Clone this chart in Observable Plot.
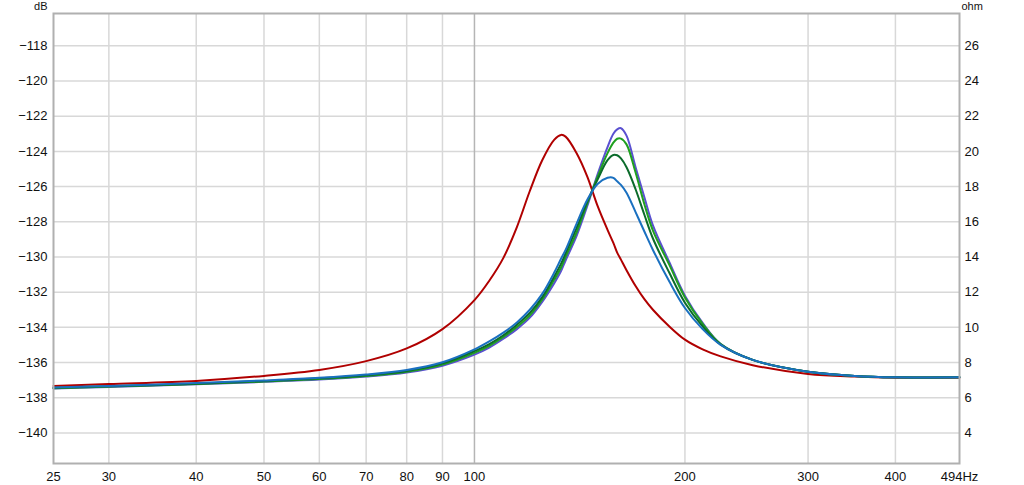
<!DOCTYPE html>
<html><head><meta charset="utf-8">
<script src="https://cdn.jsdelivr.net/npm/d3@7"></script>
<script src="https://cdn.jsdelivr.net/npm/@observablehq/plot@0.6"></script>
<style>body{margin:0;background:#fff} svg{display:block}</style>
</head><body><div id="chart"></div>
<script>
// Frequencies (Hz)
const freqs = [25,30,40,50,60,70,80,90,100,105,110,115,120,125,130,133,135,140,145,150,155,158,160,162,165,170,175,180,190,200,212,225,250,300,350,400,494];
// Series values (dB)
const redDb    = [-137.33,-137.22,-137.05,-136.76,-136.42,-135.92,-135.2,-134.1,-132.45,-131.35,-130.05,-128.3,-126.25,-124.5,-123.34,-123.06,-123.16,-124.1,-125.43,-127.1,-128.46,-129.2,-129.75,-130.15,-130.75,-131.65,-132.4,-133.0,-133.95,-134.7,-135.25,-135.65,-136.15,-136.65,-136.8,-136.86,-136.86];
const indigoDb = [-137.47,-137.39,-137.24,-137.1,-136.97,-136.8,-136.57,-136.18,-135.55,-135.15,-134.65,-134.1,-133.45,-132.55,-131.5,-130.8,-130.2,-128.8,-127.1,-125.3,-123.75,-123.0,-122.75,-122.68,-123.1,-124.9,-126.6,-128.2,-130.3,-132.2,-133.75,-134.95,-135.85,-136.52,-136.76,-136.84,-136.84];
const greenDb  = [-137.46,-137.37,-137.22,-137.08,-136.94,-136.77,-136.53,-136.12,-135.45,-135.05,-134.55,-133.98,-133.32,-132.42,-131.3,-130.6,-130.0,-128.6,-126.95,-125.45,-124.1,-123.5,-123.28,-123.27,-123.6,-125.2,-127.0,-128.5,-130.45,-132.3,-133.8,-134.95,-135.85,-136.52,-136.76,-136.84,-136.84];
const dkgreenDb= [-137.44,-137.35,-137.2,-137.05,-136.9,-136.72,-136.48,-136.05,-135.35,-134.95,-134.45,-133.85,-133.18,-132.28,-131.12,-130.38,-129.8,-128.35,-126.85,-125.6,-124.5,-124.2,-124.22,-124.4,-124.9,-126.15,-127.6,-128.95,-130.9,-132.6,-133.95,-134.98,-135.85,-136.52,-136.76,-136.84,-136.84];
const blueDb   = [-137.42,-137.33,-137.17,-137.02,-136.87,-136.68,-136.42,-135.98,-135.25,-134.8,-134.3,-133.72,-133.0,-132.1,-130.9,-130.1,-129.6,-128.1,-126.75,-125.85,-125.5,-125.5,-125.7,-125.9,-126.35,-127.45,-128.55,-129.6,-131.4,-132.9,-134.1,-135.0,-135.85,-136.52,-136.76,-136.84,-136.84];

const seriesNames  = ["red","indigo","green","dkgreen","blue"];
const seriesValues = [redDb, indigoDb, greenDb, dkgreenDb, blueDb];
const seriesColors = ["#b00000","#5a50d0","#20a020","#0b6b2b","#1a70c0"];

// Tick labels
const xTicks = [25,30,40,50,60,70,80,90,100,200,300,400,494];
const xGrid = [30,40,50,60,70,80,90,200,300,400];
const dbTicks = [-140,-138,-136,-134,-132,-130,-128,-126,-124,-122,-120,-118];
const ohmTicks = [4,6,8,10,12,14,16,18,20,22,24,26];
const ohmOffset = 144; // ohm = dB + 144

const rows = [];
seriesNames.forEach((name, i) => {
  freqs.forEach((f, j) => rows.push({series: name, f, db: seriesValues[i][j]}));
});

const font = "'Liberation Sans', Arial, sans-serif";

const chart = Plot.plot({
  width: 1024,
  height: 485,
  marginLeft: 53,
  marginRight: 65,
  marginTop: 13,
  marginBottom: 22,
  style: {fontFamily: font, fontSize: "13px", color: "#111", background: "#fff"},
  x: {type: "log", domain: [25, 494]},
  y: {domain: [-141.74, -116.16]},
  color: {domain: seriesNames, range: seriesColors},
  marks: [
    Plot.gridX(xGrid, {stroke: "#d8d8d8", strokeOpacity: 1, strokeWidth: 1.5}),
    Plot.gridY(dbTicks, {stroke: "#d8d8d8", strokeOpacity: 1, strokeWidth: 1.5}),
    Plot.ruleX([100], {stroke: "#b5b5b5", strokeWidth: 1.5}),
    Plot.axisX(xTicks, {tickSize: 0, tickPadding: 8, label: null,
      tickFormat: d => d === 494 ? "494Hz" : String(d)}),
    Plot.axisY(dbTicks, {anchor: "left", tickSize: 0, tickPadding: 6, label: null}),
    Plot.axisY(ohmTicks.map(o => o - ohmOffset), {anchor: "right", tickSize: 0, tickPadding: 5, label: null,
      tickFormat: d => String(Math.round(d + ohmOffset))}),
    Plot.line(rows, {x: "f", y: "db", z: "series", stroke: "series", strokeWidth: 2, curve: "catmull-rom"}),
    Plot.frame({stroke: "#b0b0b0", strokeWidth: 2}),
    Plot.text(["dB"], {frameAnchor: "top-left", textAnchor: "end", lineAnchor: "top", fontSize: 11, dx: -6, dy: -11}),
    Plot.text(["ohm"], {frameAnchor: "top-right", textAnchor: "start", lineAnchor: "top", fontSize: 11, dx: 2, dy: -11})
  ]
});
document.getElementById("chart").appendChild(chart);
</script>
</body></html>
